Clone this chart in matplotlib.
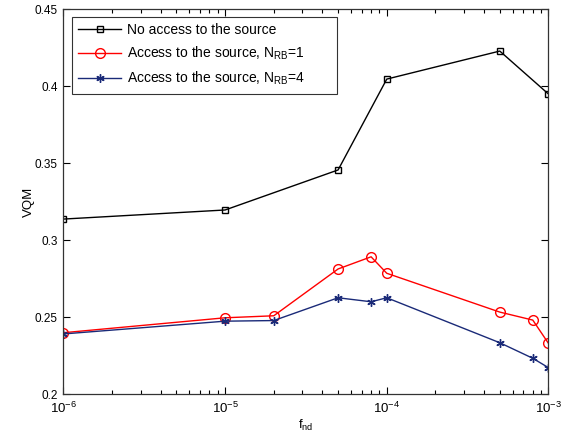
import matplotlib
matplotlib.use("Agg")
import matplotlib.pyplot as plt
from matplotlib.ticker import LogLocator, FixedLocator

plt.rcParams['font.family'] = ['Liberation Sans', 'DejaVu Sans']
plt.rcParams['mathtext.fontset'] = 'custom'
plt.rcParams['mathtext.rm'] = 'Liberation Sans'
plt.rcParams['mathtext.it'] = 'Liberation Sans:italic'

x_black = [1e-6, 1e-5, 5e-5, 1e-4, 5e-4, 1e-3]
y_black = [0.3138, 0.3197, 0.3457, 0.4047, 0.4229, 0.3950]

x_red = [1e-6, 1e-5, 2e-5, 5e-5, 8e-5, 1e-4, 5e-4, 8e-4, 1e-3]
y_red = [0.2400, 0.2497, 0.2510, 0.2814, 0.2893, 0.2786, 0.2534, 0.2482, 0.2331]

x_blue = [1e-6, 1e-5, 2e-5, 5e-5, 8e-5, 1e-4, 5e-4, 8e-4, 1e-3]
y_blue = [0.2392, 0.2475, 0.2479, 0.2627, 0.2601, 0.2627, 0.2335, 0.2234, 0.2173]

labels = ['No access to the source',
          r'Access to the source, N$_{\mathrm{RB}}$=1',
          r'Access to the source, N$_{\mathrm{RB}}$=4']

fig = plt.figure(figsize=(5.66, 4.36), dpi=100)
ax = fig.add_axes([0.112, 0.0956, 0.857, 0.883])

ax.plot(x_black, y_black, color='black', lw=1.0, marker='s', ms=5,
        mfc='none', mec='black', mew=1.0, label=labels[0])
ax.plot(x_red, y_red, color='#ff0000', lw=1.0, marker='o', ms=7,
        mfc='none', mec='#ff0000', mew=1.0, label=labels[1])
ax.plot(x_blue, y_blue, color='#1a2a78', lw=1.0, marker=(6, 2, 0), ms=6,
        mec='#1a2a78', mew=1.0, label=labels[2])

ax.set_xscale('log')
ax.set_xlim(1e-6, 1e-3)
ax.set_ylim(0.2, 0.45)
ax.set_yticks([0.2, 0.25, 0.3, 0.35, 0.4, 0.45])
ax.set_yticklabels(['0.2', '0.25', '0.3', '0.35', '0.4', '0.45'])
ax.xaxis.set_major_locator(FixedLocator([1e-6, 1e-5, 1e-4, 1e-3]))
ax.xaxis.set_minor_locator(LogLocator(base=10, subs=range(2, 10), numticks=20))
ax.set_xticklabels([r'10$^{-6}$', r'10$^{-5}$', r'10$^{-4}$', r'10$^{-3}$'])

ax.tick_params(which='both', direction='in', top=True, right=True,
               colors='black')
ax.tick_params(axis='y', labelsize=8.5, pad=4)
ax.tick_params(axis='x', labelsize=9.5, pad=5)
ax.tick_params(which='major', length=5, width=0.8)
ax.tick_params(which='minor', length=3, width=0.8)
for s in ax.spines.values():
    s.set_linewidth(0.9)
    s.set_color('#333333')

ax.set_xlabel(r'f$_{\mathrm{nd}}$', fontsize=9.5, labelpad=1)
ax.set_ylabel('VQM', fontsize=9.5, labelpad=0)

leg = ax.legend(loc='upper left', bbox_to_anchor=(0.0175, 0.98, 0.546, 0.0),
                mode='expand',
                fontsize=10, frameon=True, fancybox=False, edgecolor='black',
                borderpad=0.45, labelspacing=0.55, handlelength=3.1,
                handletextpad=0.45, borderaxespad=0.0)
leg.get_frame().set_linewidth(0.8)

fig.savefig('out.png', dpi=100, facecolor='white')
